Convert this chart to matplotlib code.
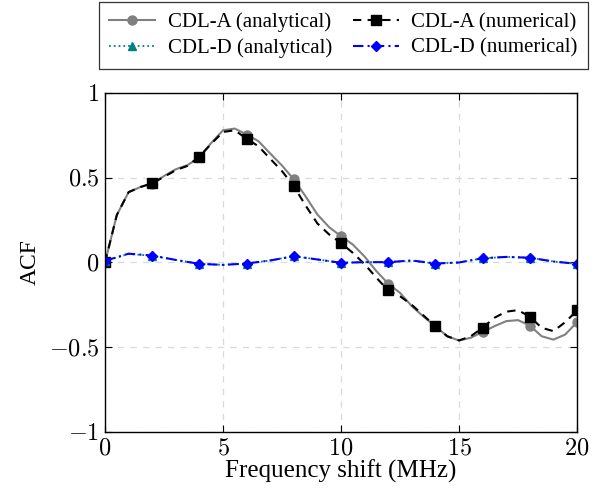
import matplotlib
matplotlib.use("Agg")
import matplotlib.pyplot as plt
import numpy as np

# frequency shift grid (MHz)
f_fine = [0, 0.5, 1, 1.5, 2, 2.5, 3, 3.5, 4, 4.5, 5, 5.5, 6, 6.5, 7, 7.5, 8, 8.5, 9, 9.5, 10,
          10.5, 11, 11.5, 12, 12.5, 13, 13.5, 14, 14.5, 15, 15.5, 16, 16.5, 17, 17.5, 18, 18.5, 19, 19.5, 20]
f_coarse = [0, 1, 2, 3, 4, 5, 6, 7, 8, 9, 10, 11, 12, 13, 14, 15, 16, 17, 18, 19, 20]

# CDL-A autocorrelation
acf_a_ana = [0, 0.28, 0.415, 0.445, 0.465, 0.51, 0.55, 0.575, 0.62, 0.705, 0.78, 0.79, 0.755,
             0.716, 0.643, 0.572, 0.49, 0.39, 0.283, 0.208, 0.155,
             0.106, 0.035, -0.051, -0.125, -0.179, -0.258, -0.32, -0.376, -0.435, -0.46,
             -0.444, -0.41, -0.376, -0.346, -0.34, -0.372, -0.435, -0.455, -0.425, -0.352]
acf_a_num = [0, 0.28, 0.415, 0.445, 0.468, 0.505, 0.545, 0.57, 0.625, 0.70, 0.77, 0.78, 0.73,
             0.686, 0.612, 0.539, 0.45, 0.336, 0.23, 0.165, 0.115,
             0.057, -0.01, -0.09, -0.165, -0.199, -0.25, -0.313, -0.376, -0.435, -0.46,
             -0.435, -0.385, -0.326, -0.29, -0.281, -0.32, -0.385, -0.405, -0.352, -0.283]

# CDL-D autocorrelation
acf_d_ana = [0.01, 0.05, 0.04, 0.015, -0.008, -0.014, -0.006, 0.012, 0.037, 0.018, -0.002,
             0.002, 0.002, 0.01, -0.006, 0.0, 0.025, 0.033, 0.028, 0.006, -0.008]
acf_d_num = [0.01, 0.052, 0.041, 0.015, -0.008, -0.014, -0.006, 0.012, 0.037, 0.018, -0.002,
             0.002, 0.002, 0.012, -0.006, 0.0, 0.025, 0.033, 0.028, 0.006, -0.008]

plt.rcParams['font.family'] = ['Liberation Serif', 'DejaVu Serif']
plt.rcParams['mathtext.fontset'] = 'cm'

fig = plt.figure(figsize=(5.99, 4.93), dpi=100)
ax = fig.add_axes([0.1753, 0.1237, 0.7880, 0.6877])

l1, = ax.plot(f_fine, acf_a_ana, color='#808080', lw=1.5, marker='o', ms=6.5, markevery=4,
              label='CDL-A (analytical)')
l2, = ax.plot(f_fine, acf_a_num, color='black', lw=1.5, ls=(0, (4, 3)), marker='s', ms=7,
              markevery=4, label='CDL-A (numerical)')
l3, = ax.plot(f_coarse, acf_d_ana, color='#008080', lw=1.3, ls=':', marker='^', ms=6,
              markevery=2, label='CDL-D (analytical)')
l4, = ax.plot(f_coarse, acf_d_num, color='#0000ff', lw=1.5, ls=(0, (5, 2, 1, 2)), marker='D',
              ms=5.5, markevery=2, label='CDL-D (numerical)')

ax.set_xlim(0, 20)
ax.set_ylim(-1, 1)
ax.set_xticks([0, 5, 10, 15, 20])
ax.set_yticks([-1, -0.5, 0, 0.5, 1])
ax.set_xticklabels([r'$0$', r'$5$', r'$10$', r'$15$', r'$20$'])
ax.set_yticklabels([r'$-1$', r'$-0.5$', r'$0$', r'$0.5$', r'$1$'])
ax.tick_params(direction='in', top=True, right=True, length=5, labelsize=17.5)
ax.tick_params(axis='x', pad=5)
ax.tick_params(axis='y', pad=4)
ax.grid(True, ls=(0, (5, 5)), color='#d9d9d9', lw=0.9)
ax.set_axisbelow(True)
for s in ax.spines.values():
    s.set_linewidth(1.0)

ax.set_xlabel('Frequency shift (MHz)', fontsize=18, labelpad=0)
ax.set_ylabel('ACF', fontsize=17, labelpad=6)

# row-wise order: A analytical, A numerical / D analytical, D numerical
leg = fig.legend([l1, l3, l2, l4], [l.get_label() for l in (l1, l3, l2, l4)],
                 loc='upper center', bbox_to_anchor=(0.5735, 0.996), ncol=2,
                 fontsize=15, frameon=True, fancybox=False, edgecolor='black',
                 handlelength=2.2, borderpad=0.5, labelspacing=0.3,
                 columnspacing=1.0, handletextpad=0.6, borderaxespad=0)
leg.get_frame().set_linewidth(0.9)

fig.savefig('out.png', dpi=100)
